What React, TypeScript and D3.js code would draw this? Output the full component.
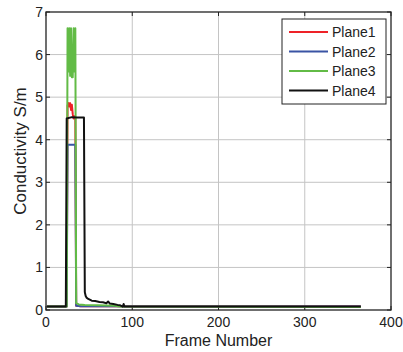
import React from "react";
import * as d3 from "d3";

const width = 403;
const height = 352;
const margin = { top: 12, right: 12, bottom: 42, left: 46 };

// [frame, conductivity]
const plane1: [number, number][] = [
  [1, 0.08], [24, 0.08], [25, 4.8], [26, 4.86], [27, 4.78], [28, 4.86], [29, 4.7],
  [30, 4.82], [31, 4.6], [32, 4.5], [33, 4.55], [34, 4.5], [35, 0.1], [40, 0.09], [365, 0.08],
];
const plane2: [number, number][] = [
  [1, 0.08], [24, 0.08], [25, 3.88], [34, 3.88], [35, 0.1], [40, 0.09], [365, 0.08],
];
const plane3: [number, number][] = [
  [1, 0.08], [24, 0.08], [25, 6.62], [26, 5.6], [27, 6.62], [28, 5.5], [29, 6.62],
  [30, 5.47], [31, 5.47], [32, 6.62], [33, 5.6], [34, 6.62], [35, 0.16], [38, 0.13],
  [45, 0.12], [60, 0.11], [80, 0.1], [85, 0.08], [365, 0.07],
];
const plane4: [number, number][] = [
  [1, 0.08], [23, 0.08], [24, 4.5], [30, 4.53], [36, 4.52], [44, 4.52], [45, 0.42],
  [46, 0.33], [47, 0.29], [49, 0.26], [53, 0.22], [57, 0.21], [62, 0.19], [66, 0.18],
  [70, 0.16], [72, 0.2], [74, 0.15], [78, 0.14], [83, 0.12], [86, 0.11], [89, 0.08],
  [90, 0.14], [91, 0.08], [365, 0.08],
];

const seriesNames = ["Plane1", "Plane2", "Plane3", "Plane4"];
const seriesColors = ["#ee2228", "#3a54a4", "#62bb46", "#111111"];
const seriesData = [plane1, plane2, plane3, plane4];

const xTicks = [0, 100, 200, 300, 400];
const yTicks = [0, 1, 2, 3, 4, 5, 6, 7];

const font = "'Liberation Sans', Arial, sans-serif";

export default function App() {
  const x = d3.scaleLinear().domain([0, 400]).range([margin.left, width - margin.right]);
  const y = d3.scaleLinear().domain([0, 7]).range([height - margin.bottom, margin.top]);
  const line = d3
    .line<[number, number]>()
    .x(d => x(d[0]))
    .y(d => y(d[1]));

  const x0 = x.range()[0];
  const x1 = x.range()[1];
  const y0 = y.range()[0];
  const y1 = y.range()[1];
  const tick = 4;

  const legX = 282;
  const legY = 19;

  return (
    <svg
      width={width}
      height={height}
      style={{ position: "absolute", left: 0, top: 0, background: "#fff" }}
      fontFamily={font}
    >
      {/* grid */}
      {xTicks.slice(1, -1).map(t => (
        <line key={"gx" + t} x1={x(t)} x2={x(t)} y1={y0} y2={y1} stroke="#c4c4c4" strokeWidth={1} />
      ))}
      {yTicks.slice(1, -1).map(t => (
        <line key={"gy" + t} x1={x0} x2={x1} y1={y(t)} y2={y(t)} stroke="#c4c4c4" strokeWidth={1} />
      ))}

      {/* ticks, inward on all sides */}
      {xTicks.map(t => (
        <g key={"tx" + t}>
          <line x1={x(t)} x2={x(t)} y1={y0} y2={y0 - tick} stroke="#222" />
          <line x1={x(t)} x2={x(t)} y1={y1} y2={y1 + tick} stroke="#222" />
          <text x={x(t)} y={y0 + 17} fontSize={14} textAnchor="middle" fill="#222">
            {t}
          </text>
        </g>
      ))}
      {yTicks.map(t => (
        <g key={"ty" + t}>
          <line x1={x0} x2={x0 + tick} y1={y(t)} y2={y(t)} stroke="#222" />
          <line x1={x1} x2={x1 - tick} y1={y(t)} y2={y(t)} stroke="#222" />
          <text x={x0 - 3} y={y(t) + 5} fontSize={14} textAnchor="end" fill="#222">
            {t}
          </text>
        </g>
      ))}

      {/* series */}
      {seriesData.map((d, i) => (
        <path
          key={seriesNames[i]}
          d={line(d) || ""}
          fill="none"
          stroke={seriesColors[i]}
          strokeWidth={2}
          strokeLinejoin="round"
        />
      ))}

      {/* box */}
      <rect x={x0} y={y1} width={x1 - x0} height={y0 - y1} fill="none" stroke="#222" strokeWidth={1.3} />

      {/* legend */}
      <rect x={legX} y={legY} width={104} height={85} fill="#fff" stroke="#222" strokeWidth={1} />
      {seriesNames.map((n, i) => (
        <g key={"leg" + n} transform={`translate(${legX}, ${legY + 13 + i * 19.5})`}>
          <line x1={7} x2={46} y1={0} y2={0} stroke={seriesColors[i]} strokeWidth={2} />
          <text x={50} y={5} fontSize={14} fill="#222">
            {n}
          </text>
        </g>
      ))}

      {/* axis titles */}
      <text x={(x0 + x1) / 2} y={346} fontSize={16} textAnchor="middle" fill="#222">
        Frame Number
      </text>
      <text
        transform={`translate(26, ${(y0 + y1) / 2 - 10}) rotate(-90)`}
        fontSize={17}
        textAnchor="middle"
        fill="#222"
      >
        Conductivity S/m
      </text>
    </svg>
  );
}
